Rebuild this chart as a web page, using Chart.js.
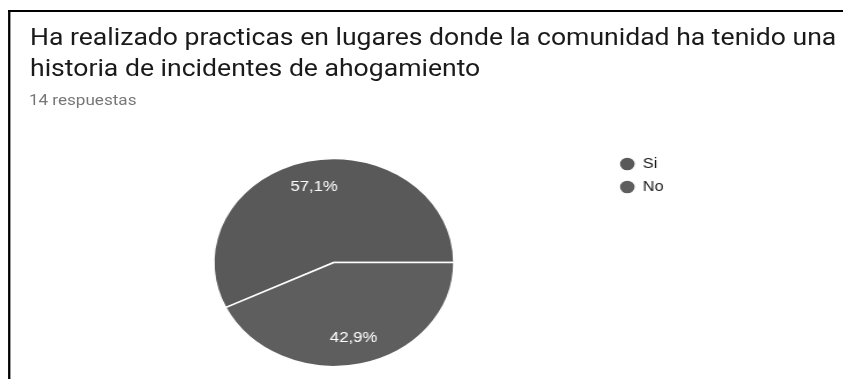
<!DOCTYPE html>
<html>
<head>
<meta charset="utf-8">
<script src="https://cdn.jsdelivr.net/npm/chart.js@4/dist/chart.umd.min.js"></script>
<style>
  html, body { margin: 0; padding: 0; background: #fff; overflow: hidden; }
  #page {
    position: absolute; left: 0; top: 0;
    width: 730px; height: 379px;
    transform: scaleX(1.155); transform-origin: 0 0;
  }
  #frame {
    position: absolute; left: 7px; top: 10px; right: 0; bottom: -5px;
    border-left: 2px solid #000; border-top: 2px solid #000;
  }
  #title {
    position: absolute; left: 26px; top: 22px;
    font-family: Roboto, sans-serif; font-size: 23px; line-height: 31px;
    color: #1a1a1a; white-space: nowrap;
  }
  #sub {
    position: absolute; left: 25px; top: 91px;
    font-family: Roboto, sans-serif; font-size: 14.8px; color: #777777;
  }
  #box { position: absolute; left: 0; top: 130px; width: 730px; height: 249px; }
</style>
</head>
<body>
<div id="page">
  <div id="frame"></div>
  <div id="title">Ha realizado practicas en lugares donde la comunidad ha tenido una<br>historia de incidentes de ahogamiento</div>
  <div id="sub">14 respuestas</div>
  <div id="box"><canvas id="pie" width="730" height="249"></canvas></div>
</div>
<script>
const labels = ["Si", "No"]
const counts = [8, 6]
const colors = ["#595959", "#5e5e5e"]

const pctLabels = {
    id: "pctLabels",
    afterDatasetsDraw(chart) {
        const ctx = chart.ctx
        const meta = chart.getDatasetMeta(0)
        const total = counts.reduce((a, b) => a + b, 0)
        ctx.save()
        ctx.fillStyle = "#ffffff"
        ctx.font = "14.5px Arial, 'Liberation Sans', sans-serif"
        ctx.textAlign = "center"
        ctx.textBaseline = "middle"
        meta.data.forEach((arc, i) => {
            const mid = (arc.startAngle + arc.endAngle) / 2
            const r = arc.outerRadius * 0.74
            const txt = (counts[i] / total * 100).toFixed(1).replace(".", ",") + "%"
            ctx.fillText(txt, arc.x + Math.cos(mid) * r, arc.y + Math.sin(mid) * r)
        })
        ctx.restore()
    }
}

new Chart(document.getElementById("pie"), {
    type: "pie",
    data: {
        labels: labels,
        datasets: [{
            data: counts,
            backgroundColor: colors,
            borderColor: "#ffffff",
            borderWidth: 1.5,
            radius: 104
        }]
    },
    options: {
        responsive: false,
        animation: false,
        rotation: 244.3,
        layout: { padding: { left: 50.5, right: 145.5, top: 18, bottom: 2 } },
        plugins: {
            legend: {
                position: "right",
                align: "start",
                labels: {
                    usePointStyle: true,
                    pointStyle: "circle",
                    boxWidth: 13,
                    boxHeight: 10,
                    padding: 9,
                    color: "#1a1a1a",
                    font: { family: "Arial, 'Liberation Sans', sans-serif", size: 14 }
                }
            },
            tooltip: { enabled: false }
        }
    },
    plugins: [pctLabels]
})
</script>
</body>
</html>
